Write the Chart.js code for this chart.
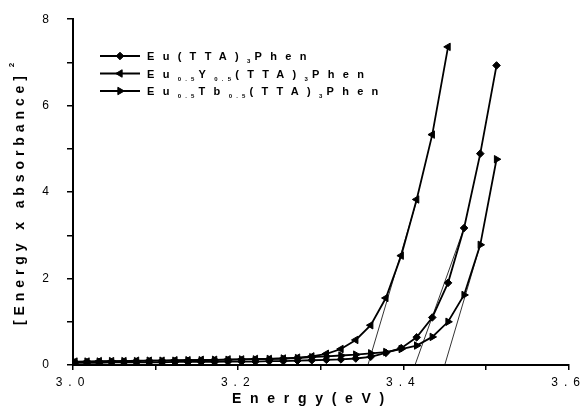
<!DOCTYPE html>
<html>
<head>
<meta charset="utf-8">
<script src="https://cdn.jsdelivr.net/npm/chart.js@4.4.0/dist/chart.umd.min.js"></script>
<style>
  html, body { margin: 0; background: #fff; }
  #wrap { width: 582px; height: 414px; }
</style>
</head>
<body>
<div id="wrap"><canvas id="absChart" width="582" height="414"></canvas></div>
<script>
// photon energies (eV) of the measured points
const energy = [3.0024, 3.0170, 3.0318, 3.0467, 3.0617, 3.0769, 3.0923, 3.1078, 3.1234, 3.1392,
  3.1552, 3.1714, 3.1877, 3.2041, 3.2208, 3.2376, 3.2546, 3.2718, 3.2891, 3.3067,
  3.3244, 3.3423, 3.3604, 3.3787, 3.3973, 3.4160, 3.4349, 3.4540, 3.4734, 3.4930, 3.5127];

// [Energy x absorbance]^2 for each complex
const euPhen = [0.05, 0.05, 0.05, 0.06, 0.06, 0.06, 0.06, 0.06, 0.07, 0.07,
  0.07, 0.07, 0.08, 0.08, 0.08, 0.09, 0.09, 0.10, 0.11, 0.12,
  0.13, 0.15, 0.19, 0.28, 0.39, 0.64, 1.10, 1.90, 3.17, 4.89, 6.93];
const euYPhen = [0.08, 0.08, 0.09, 0.09, 0.09, 0.10, 0.10, 0.10, 0.11, 0.11,
  0.12, 0.12, 0.13, 0.13, 0.14, 0.14, 0.15, 0.17, 0.20, 0.26,
  0.37, 0.58, 0.92, 1.55, 2.53, 3.83, 5.33, 7.36];
const euTbPhen = [0.07, 0.08, 0.08, 0.09, 0.09, 0.09, 0.10, 0.10, 0.10, 0.11,
  0.11, 0.12, 0.12, 0.13, 0.13, 0.14, 0.15, 0.16, 0.18, 0.20,
  0.22, 0.24, 0.27, 0.30, 0.37, 0.45, 0.65, 1.00, 1.62, 2.78, 4.76];

// band-gap extrapolation lines (start on the axis, end on the curve)
const fitYX = [3.357, 3.4165];
const fitYY = [0, 3.83];
const fitPhenX = [3.414, 3.4734];
const fitPhenY = [0, 3.17];
const fitTbX = [3.450, 3.4930];
const fitTbY = [0, 2.78];

// legend names, "_" toggles subscript
const names = ['Eu(TTA)_3_Phen', 'Eu_0.5_Y_0.5_(TTA)_3_Phen', 'Eu_0.5_Tb_0.5_(TTA)_3_Phen'];

const xTicks = [3.0, 3.2, 3.4, 3.6];
const yTicks = [0, 2, 4, 6, 8];

const FONT = "'Liberation Sans', Arial, sans-serif";

const toPoints = (xs, ys) => ys.map((y, i) => ({ x: xs[i], y: y }));

const markers = [
  { pointStyle: 'rectRot', rotation: 0, radius: 3.8 },
  { pointStyle: 'triangle', rotation: -90, radius: 4.3 },
  { pointStyle: 'triangle', rotation: 90, radius: 4.3 }
];

function seriesSet(label, data, m) {
  return {
    label: label,
    data: data,
    borderColor: '#000',
    backgroundColor: '#000',
    borderWidth: 1.8,
    pointStyle: m.pointStyle,
    pointRotation: m.rotation,
    pointRadius: m.radius,
    pointBackgroundColor: '#000',
    pointBorderColor: '#000',
    pointBorderWidth: 1,
    tension: 0
  };
}

function fitSet(data) {
  return {
    label: '',
    data: data,
    borderColor: '#000',
    borderWidth: 0.8,
    pointRadius: 0,
    tension: 0
  };
}

// subscripted, letter spaced text
function drawRich(ctx, str, x, y, size, subSize, gap, subGap) {
  str.split('_').forEach((part, i) => {
    const sub = i % 2 === 1;
    ctx.font = 'bold ' + (sub ? subSize : size) + 'px ' + FONT;
    ctx.letterSpacing = (sub ? subGap : gap) + 'px';
    ctx.fillText(part, x, y + (sub ? 3 : 0));
    x += ctx.measureText(part).width;
  });
  return x;
}

const decorPlugin = {
  id: 'decor',
  beforeDraw(chart) {
    chart.ctx.letterSpacing = '6px';
  },
  afterDraw(chart) {
    const ctx = chart.ctx;
    const area = chart.chartArea;
    ctx.save();
    ctx.fillStyle = '#000';
    ctx.strokeStyle = '#000';
    ctx.textBaseline = 'alphabetic';
    ctx.textAlign = 'left';

    // legend
    const rows = [56, 73.5, 91];
    names.forEach((name, i) => {
      const y = rows[i];
      ctx.lineWidth = 1.8;
      ctx.beginPath();
      ctx.moveTo(100, y);
      ctx.lineTo(140, y);
      ctx.stroke();
      ctx.lineWidth = 1;
      Chart.helpers.drawPoint(ctx, {
        pointStyle: markers[i].pointStyle,
        rotation: markers[i].rotation,
        radius: markers[i].radius,
        borderWidth: 1
      }, 120, y);
      drawRich(ctx, name, 147, y + 4, 11, 6, 8.3, 4.2);
    });

    // x axis title
    ctx.font = 'bold 14px ' + FONT;
    ctx.letterSpacing = '8.7px';
    ctx.fillText('Energy(eV)', 232, 403);

    // y axis title with superscript
    const yTitle = '[Energy x absorbance]';
    ctx.translate(24, (area.top + area.bottom) / 2 + 6);
    ctx.rotate(-Math.PI / 2);
    ctx.font = 'bold 14px ' + FONT;
    ctx.letterSpacing = '4.9px';
    const w = ctx.measureText(yTitle).width;
    ctx.fillText(yTitle, -w / 2, 0);
    ctx.font = 'bold 8px ' + FONT;
    ctx.letterSpacing = '0px';
    ctx.fillText('2', w / 2 + 4, -10);
    ctx.restore();
    ctx.letterSpacing = '0px';
  }
};

new Chart(document.getElementById('absChart'), {
  type: 'line',
  data: {
    datasets: [
      seriesSet(names[0], toPoints(energy, euPhen), markers[0]),
      seriesSet(names[1], toPoints(energy, euYPhen), markers[1]),
      seriesSet(names[2], toPoints(energy, euTbPhen), markers[2]),
      fitSet(toPoints(fitYX, fitYY)),
      fitSet(toPoints(fitPhenX, fitPhenY)),
      fitSet(toPoints(fitTbX, fitTbY))
    ]
  },
  options: {
    responsive: false,
    animation: false,
    layout: { padding: { left: 0, top: 13, right: 11, bottom: 0 } },
    plugins: {
      legend: { display: false },
      tooltip: { enabled: false }
    },
    scales: {
      x: {
        type: 'linear',
        min: 3.0,
        max: 3.6,
        border: { display: true, color: '#000', width: 2 },
        grid: { drawOnChartArea: false, drawTicks: true, tickLength: 5, color: '#000', lineWidth: 1.5 },
        ticks: {
          stepSize: 0.1,
          autoSkip: false,
          maxRotation: 0,
          padding: 5,
          color: '#000',
          font: { family: FONT, size: 12 },
          callback: (v) => {
            const t = xTicks.find(k => Math.abs(k - v) < 1e-6);
            return t === undefined ? '' : t.toFixed(1);
          }
        },
        afterFit: (scale) => { scale.height = 49; }
      },
      y: {
        min: 0,
        max: 8,
        border: { display: true, color: '#000', width: 2 },
        grid: { drawOnChartArea: false, drawTicks: true, tickLength: 6, color: '#000', lineWidth: 1.5 },
        ticks: {
          stepSize: 1,
          autoSkip: false,
          padding: 12,
          color: '#000',
          font: { family: FONT, size: 12 },
          callback: (v) => yTicks.includes(v) ? String(v) : ''
        },
        afterFit: (scale) => { scale.width = 73; }
      }
    }
  },
  plugins: [decorPlugin]
});
</script>
</body>
</html>
